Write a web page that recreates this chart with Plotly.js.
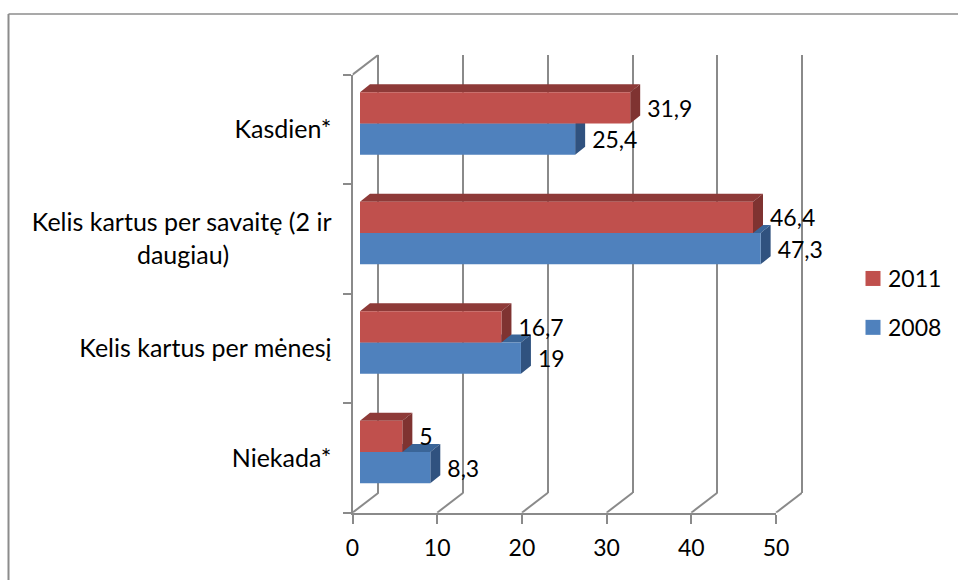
<!DOCTYPE html>
<html><head><meta charset="utf-8">
<script src="https://cdn.plot.ly/plotly-3.0.0.min.js"></script>
<style>html,body{margin:0;padding:0;background:#fff}#c{width:958px;height:580px}
.legendtext{transform:translateX(-5px)}</style>
</head><body><div id="c"></div>
<script>
// ---- data (bottom to top on the axis) ----
const categories = ["Niekada*", "Kelis kartus per mėnesį", "Kelis kartus per savaitę (2 ir<br>daugiau)", "Kasdien*"];
const values2008 = [8.3, 19, 47.3, 25.4];
const values2011 = [5, 16.7, 46.4, 31.9];
const xTicks = [0, 10, 20, 30, 40, 50];

// ---- styling / geometry ----
const W = 958, H = 580;
const FONT = {family: 'Lato, Carlito, sans-serif', size: 23, color: '#000'};
const CATFONT = {family: 'Lato, Carlito, sans-serif', size: 25, color: '#000'};
const GRID = '#8a8a8a';
const GW = 2;
const C2011 = {front: '#C0504D', top: '#8E3A38', side: '#7F3331'};
const C2008 = {front: '#4F81BD', top: '#3A6598', side: '#30527F'};
const PAD = '\u00a0'.repeat(16);
const catLabels = categories.map(c => c.includes('<br>') ? c + PAD : c);

const front = {x0: 352.5, x1: 776, yTop: 74.7, yBot: 512.7};
const pxU = (front.x1 - front.x0) / 50;
const pxB = (front.yBot - front.yTop) / categories.length;
const dom = (a, b, s) => s === 'x' ? [a / W, b / W] : [1 - b / H, 1 - a / H];

const idx = categories.map((_, i) => i);
const barW = 2 / 7, dX = 10 / pxU, dY = 8 / pxB;
const yR = [-0.5, categories.length - 0.5];

function faces(values, off) {
  const top = {x: [], y: []}, side = {x: [], y: []};
  values.forEach((v, i) => {
    const yb = i + off - barW / 2, yt = i + off + barW / 2;
    top.x.push(0, v, v + dX, dX, 0, null);
    top.y.push(yt, yt, yt + dY, yt + dY, yt, null);
    side.x.push(v, v + dX, v + dX, v, v, null);
    side.y.push(yt, yt + dY, yb + dY, yb, yt, null);
  });
  return {top, side};
}
function faceTrace(f, col, grp) {
  return {type: 'scatter', mode: 'lines', x: f.x, y: f.y, xaxis: 'x4', yaxis: 'y4', fill: 'toself',
    fillcolor: col, line: {width: 0, color: col}, hoverinfo: 'skip', showlegend: false, legendgroup: grp};
}
const lbl = v => String(v).replace('.', ',');
const labelShift = 17 / pxU;
function labelTrace(values, off, grp) {
  return {type: 'scatter', mode: 'text', x: values.map(v => v + labelShift),
    y: idx.map(i => i + off - 0.03), text: values.map(lbl), textposition: 'middle right',
    textfont: FONT, cliponaxis: false, xaxis: 'x5', yaxis: 'y5', hoverinfo: 'skip', showlegend: false, legendgroup: grp};
}
function legendTrace(name, col) {
  return {type: 'scatter', mode: 'markers', name, legendgroup: name, x: catLabels.map(() => null), y: catLabels,
    marker: {symbol: 'square', size: 15, color: col}, xaxis: 'x', yaxis: 'y', hoverinfo: 'skip'};
}
const f08 = faces(values2008, -barW / 2), f11 = faces(values2011, barW / 2);
const depthX = 26 / pxU, depthY = 20;
const gridPad = 0.3; // keeps the first and last back-wall gridlines inside the axis range

// floor and top-left diagonals of the 3-D box
const diagX = [], diagY = [];
xTicks.forEach(t => { diagX.push(t, t + depthX, null); diagY.push(0, depthY, null); });
diagX.push(0, depthX); diagY.push(front.yBot - front.yTop, front.yBot - front.yTop + depthY);

const traces = [
  legendTrace('2011', C2011.front),
  legendTrace('2008', C2008.front),
  // keeps the back-wall subplot (gridlines) alive
  {type: 'scatter', mode: 'markers', x: xTicks, y: xTicks.map(() => null), xaxis: 'x2', yaxis: 'y2',
    marker: {opacity: 0}, hoverinfo: 'skip', showlegend: false},
  {type: 'scatter', mode: 'lines', x: diagX, y: diagY, xaxis: 'x3', yaxis: 'y3',
    line: {color: GRID, width: GW}, hoverinfo: 'skip', showlegend: false},
  faceTrace(f08.top, C2008.top, '2008'), faceTrace(f08.side, C2008.side, '2008'),
  faceTrace(f11.top, C2011.top, '2011'), faceTrace(f11.side, C2011.side, '2011'),
  {type: 'bar', orientation: 'h', name: '2008', legendgroup: '2008', showlegend: false, x: values2008, y: idx,
    marker: {color: C2008.front, line: {width: 0}}, xaxis: 'x5', yaxis: 'y5'},
  {type: 'bar', orientation: 'h', name: '2011', legendgroup: '2011', showlegend: false, x: values2011, y: idx,
    marker: {color: C2011.front, line: {width: 0}}, xaxis: 'x5', yaxis: 'y5'},
  labelTrace(values2008, -barW / 2, '2008'),
  labelTrace(values2011, barW / 2, '2011')
];

const hidden = {visible: false, fixedrange: true};
const layout = {
  width: W, height: H, margin: {l: 0, r: 0, t: 0, b: 0}, paper_bgcolor: '#fff', plot_bgcolor: 'rgba(0,0,0,0)',
  font: FONT, showlegend: true, barmode: 'group', bargap: 1 - 2 * barW, bargroupgap: 0,
  legend: {x: 853 / W, y: 1 - 257 / H, xanchor: 'left', yanchor: 'top', font: FONT, tracegroupgap: 16,
    bgcolor: 'rgba(0,0,0,0)', itemclick: false, itemdoubleclick: false},
  xaxis: {domain: dom(front.x0, front.x1, 'x'), range: [0, 50], anchor: 'y', tickmode: 'array', tickvals: xTicks,
    ticks: 'outside', ticklen: 9, tickwidth: GW, tickcolor: GRID, showline: true, linecolor: GRID, linewidth: GW,
    showgrid: false, zeroline: false, tickfont: FONT, ticklabelstandoff: 5},
  yaxis: {domain: dom(front.yTop, front.yBot, 'y'), type: 'category', categoryorder: 'array', categoryarray: catLabels,
    range: yR, anchor: 'x', tickson: 'boundaries', ticks: 'outside', ticklen: 8, tickwidth: GW, tickcolor: GRID,
    showline: true, linecolor: GRID, linewidth: GW, showgrid: false, zeroline: false, tickfont: CATFONT, ticklabelstandoff: 14},
  // back wall with gridlines
  xaxis2: {domain: dom(front.x0 + 26 - gridPad * pxU, front.x1 + 26 + gridPad * pxU, 'x'), range: [-gridPad, 50 + gridPad], anchor: 'y2',
    tickmode: 'array', tickvals: xTicks, showgrid: true, gridcolor: GRID, gridwidth: GW, zeroline: false,
    showticklabels: false, ticks: '', showline: false},
  yaxis2: {domain: dom(front.yTop - depthY, front.yBot - depthY, 'y'), range: yR, anchor: 'x2', showgrid: false, zeroline: false,
    showticklabels: false, ticks: '', showline: false},
  // union of front and back planes, for the diagonals
  xaxis3: Object.assign({domain: dom(front.x0, front.x1 + 26, 'x'), range: [0, 50 + depthX], anchor: 'y3'}, hidden),
  yaxis3: Object.assign({domain: dom(front.yTop - depthY, front.yBot, 'y'), range: [0, front.yBot - front.yTop + depthY], anchor: 'x3'}, hidden),
  // depth faces and bar fronts share the plane of the bars
  xaxis4: Object.assign({domain: dom(360, 360 + 50 * pxU, 'x'), range: [0, 50], anchor: 'y4'}, hidden),
  yaxis4: Object.assign({domain: dom(front.yTop - 6, front.yBot - 6, 'y'), range: yR, anchor: 'x4'}, hidden),
  xaxis5: Object.assign({domain: dom(360, 360 + 50 * pxU, 'x'), range: [0, 50], anchor: 'y5'}, hidden),
  yaxis5: Object.assign({domain: dom(front.yTop - 6, front.yBot - 6, 'y'), range: yR, anchor: 'x5'}, hidden),
  shapes: [
    {type: 'line', xref: 'paper', yref: 'paper', x0: 8.5 / W, x1: 1, y0: 1 - 14 / H, y1: 1 - 14 / H, line: {color: '#8c8c8c', width: 1.6}},
    {type: 'line', xref: 'paper', yref: 'paper', x0: 8.5 / W, x1: 8.5 / W, y0: 0, y1: 1 - 14 / H, line: {color: '#8c8c8c', width: 2}}
  ]
};
Plotly.newPlot('c', traces, layout, {displayModeBar: false});
</script></body></html>
